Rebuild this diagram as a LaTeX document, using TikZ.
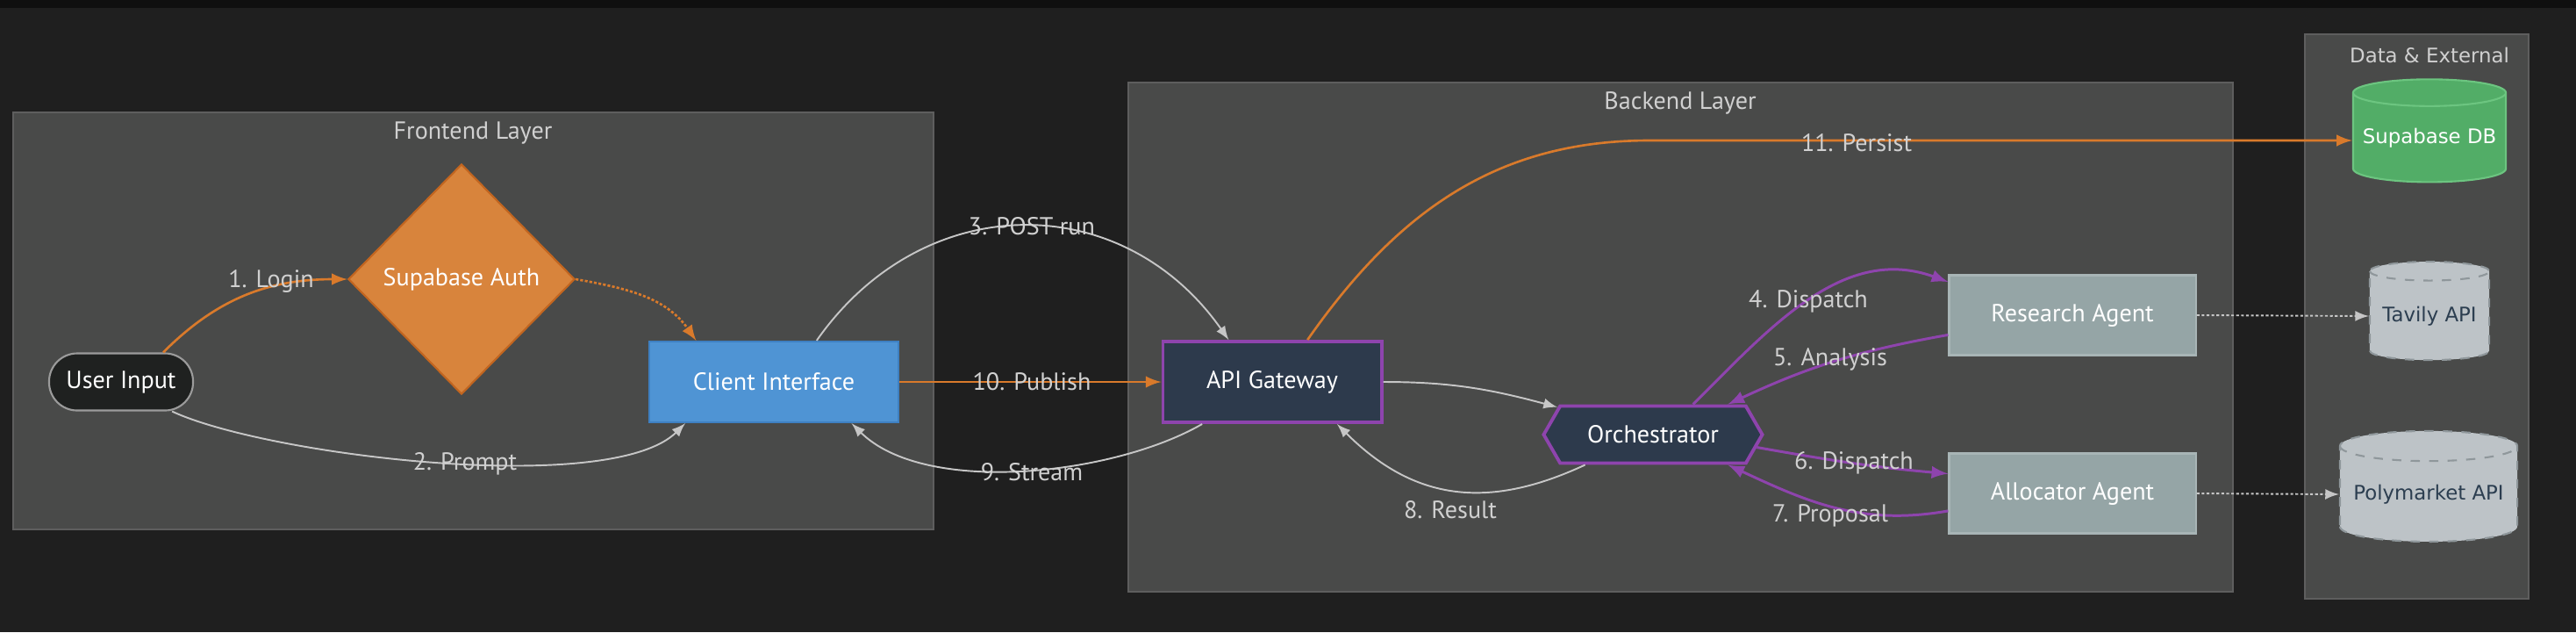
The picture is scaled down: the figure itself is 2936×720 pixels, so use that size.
\documentclass[tikz,border=0pt]{standalone}
\usepackage{fontspec}
\setmainfont{PT Sans}
\newfontfamily\dvsans{DejaVu Sans}
\usetikzlibrary{arrows,shapes.geometric,shapes.symbols}
\definecolor{bgdark}{HTML}{1F1F1F}
\definecolor{bgtop}{HTML}{0F0F0F}
\definecolor{grpfill}{HTML}{494A49}
\definecolor{grpline}{HTML}{5E5E5E}
\definecolor{labeltxt}{HTML}{D0D0D0}
\definecolor{uifill}{HTML}{1F2120}
\definecolor{uiline}{HTML}{9B9B9B}
\definecolor{authfill}{HTML}{D8843C}
\definecolor{authline}{HTML}{C2651F}
\definecolor{clifill}{HTML}{4F94D4}
\definecolor{cliline}{HTML}{3E80C2}
\definecolor{navy}{HTML}{2D3A4C}
\definecolor{purp}{HTML}{8E44AD}
\definecolor{agfill}{HTML}{95A5A6}
\definecolor{agline}{HTML}{A8B5B6}
\definecolor{dbfill}{HTML}{52AD67}
\definecolor{dbline}{HTML}{6CC580}
\definecolor{extfill}{HTML}{BDC3C7}
\definecolor{extline}{HTML}{8F979B}
\definecolor{exttext}{HTML}{2C3E50}
\definecolor{flowor}{HTML}{D97A2B}
\definecolor{flowgr}{HTML}{C6C6C6}

\begin{document}
\begin{tikzpicture}[x=0.01cm,y=0.01cm,>=latex,font=\fontsize{8}{9.6}\selectfont,
	grp/.style={draw=grpline,fill=grpfill,line width=0.5pt},
	tlabel/.style={text=labeltxt,inner sep=0pt},
	dvfont/.style={font=\dvsans\fontsize{6.5}{8}\selectfont},
	uinput/.style={rectangle,rounded corners=0.32cm,draw=uiline,fill=uifill,text=white,minimum width=1.64cm,minimum height=0.65cm,line width=0.6pt},
	auth/.style={diamond,aspect=1,draw=authline,fill=authfill,text=white,inner sep=0pt,minimum width=2.58cm,minimum height=2.62cm,line width=0.6pt},
	client/.style={rectangle,draw=cliline,fill=clifill,text=white,minimum width=2.84cm,minimum height=0.92cm,line width=0.6pt},
	gate/.style={rectangle,draw=purp,fill=navy,text=white,minimum width=2.49cm,minimum height=0.92cm,line width=1.1pt},
	orch/.style={signal,signal to=east and west,signal pointer angle=120,draw=purp,fill=navy,text=white,inner sep=0pt,minimum width=2.49cm,minimum height=0.65cm,line width=1.1pt},
	agent/.style={rectangle,draw=agline,fill=agfill,text=white,minimum width=2.81cm,minimum height=0.91cm,line width=0.6pt},
	db/.style={cylinder,shape border rotate=90,aspect=0.2,draw=dbline,fill=dbfill,text=white,dvfont,inner sep=0pt,line width=0.6pt},
	ext/.style={db,draw=extline,fill=extfill,text=exttext,dashed},
	ora/.style={->,color=flowor,line width=0.75pt},
	gry/.style={->,color=flowgr,line width=0.55pt},
	pur/.style={->,color=purp,line width=0.85pt},
	dotln/.style={->,color=flowgr,line width=0.55pt,dash pattern=on 0.9pt off 0.7pt}]
\fill[bgdark] (0,0) rectangle (2936,-720);
\fill[bgtop] (0,0) rectangle (2936,-9);
\draw[grp] (15,-128) rectangle (1064,-603);
\draw[grp] (1286,-94) rectangle (2545,-674);
\draw[grp] (2627,-39) rectangle (2882,-682);

\node[tlabel] (tFront) at (539,-152) {Frontend Layer};
\node[tlabel] (tBack) at (1915,-117) {Backend Layer};
\node[tlabel,dvfont] (tData) at (2769,-63) {Data \& External};

\node[uinput] (UI) at (138,-435) {User Input};
\node[auth] (SA) at (526,-318) {Supabase Auth};
\node[client] (CI) at (882,-435) {Client Interface};
\node[gate] (AG) at (1450,-435) {API Gateway};
\node[orch] (OR) at (1884,-495) {Orchestrator};
\node[agent] (RA) at (2362,-359) {Research Agent};
\node[agent] (AA) at (2362,-562) {Allocator Agent};
\node[db,minimum width=1.74cm,minimum height=1.17cm] (DB) at (2769,-157) {Supabase DB};
\node[ext,minimum width=1.36cm,minimum height=1.12cm] (TA) at (2769,-360) {Tavily API};
\node[ext,minimum width=2.02cm,minimum height=1.26cm] (PA) at (2768,-563) {Polymarket API};
\coordinate (bendP) at (1880,-160);

\path[ora] (UI.35) edge[out=45,in=180] (SA.west);
\path[ora,dash pattern=on 0.9pt off 0.6pt] (SA.east) edge[out=-10,in=125] (CI.152);
\path[gry] (UI.-30) edge[out=-25,in=-135,looseness=0.52] (CI.205);
\path[gry] (CI.44) edge[out=55,in=125,looseness=1.15] (AG.136);
\path[ora] (CI.east) edge (AG.west);
\path[gry] (AG.211) edge[out=-150,in=-45,looseness=0.75] (CI.-28);
\draw[ora] (AG.50) to[out=55,in=180] (bendP) -- (bendP -| DB.west);
\path[gry] (AG.east) edge[out=0,in=165] (OR.164);
\path[gry] (OR.204) edge[out=-155,in=-45,looseness=1.1] (AG.-33);
\path[pur] (OR.37) edge[out=45,in=160] (RA.165);
\path[pur] (RA.189) edge[out=190,in=25] (OR.22);
\path[pur] (OR.-7) edge[out=-10,in=175] (AA.171);
\path[pur] (AA.188) edge[out=190,in=-25] (OR.-22);
\path[dotln] (RA.east) edge (TA.west);
\path[dotln] (AA.east) edge (PA.west);

\node[tlabel] (lLogin) at (309,-320) {1. Login};
\node[tlabel] (lPrompt) at (530,-528) {2. Prompt};
\node[tlabel] (lPost) at (1176,-258) {3. POST run};
\node[tlabel] (lDisp4) at (2061,-343) {4. Dispatch};
\node[tlabel] (lAnal) at (2086,-409) {5. Analysis};
\node[tlabel] (lDisp6) at (2113,-527) {6. Dispatch};
\node[tlabel] (lProp) at (2086,-587) {7. Proposal};
\node[tlabel] (lResult) at (1653,-581) {8. Result};
\node[tlabel] (lStream) at (1176,-538) {9. Stream};
\node[tlabel] (lPub) at (1176,-435) {10. Publish};
\node[tlabel] (lPersist) at (2116,-163) {11. Persist};

\end{tikzpicture}
\end{document}
